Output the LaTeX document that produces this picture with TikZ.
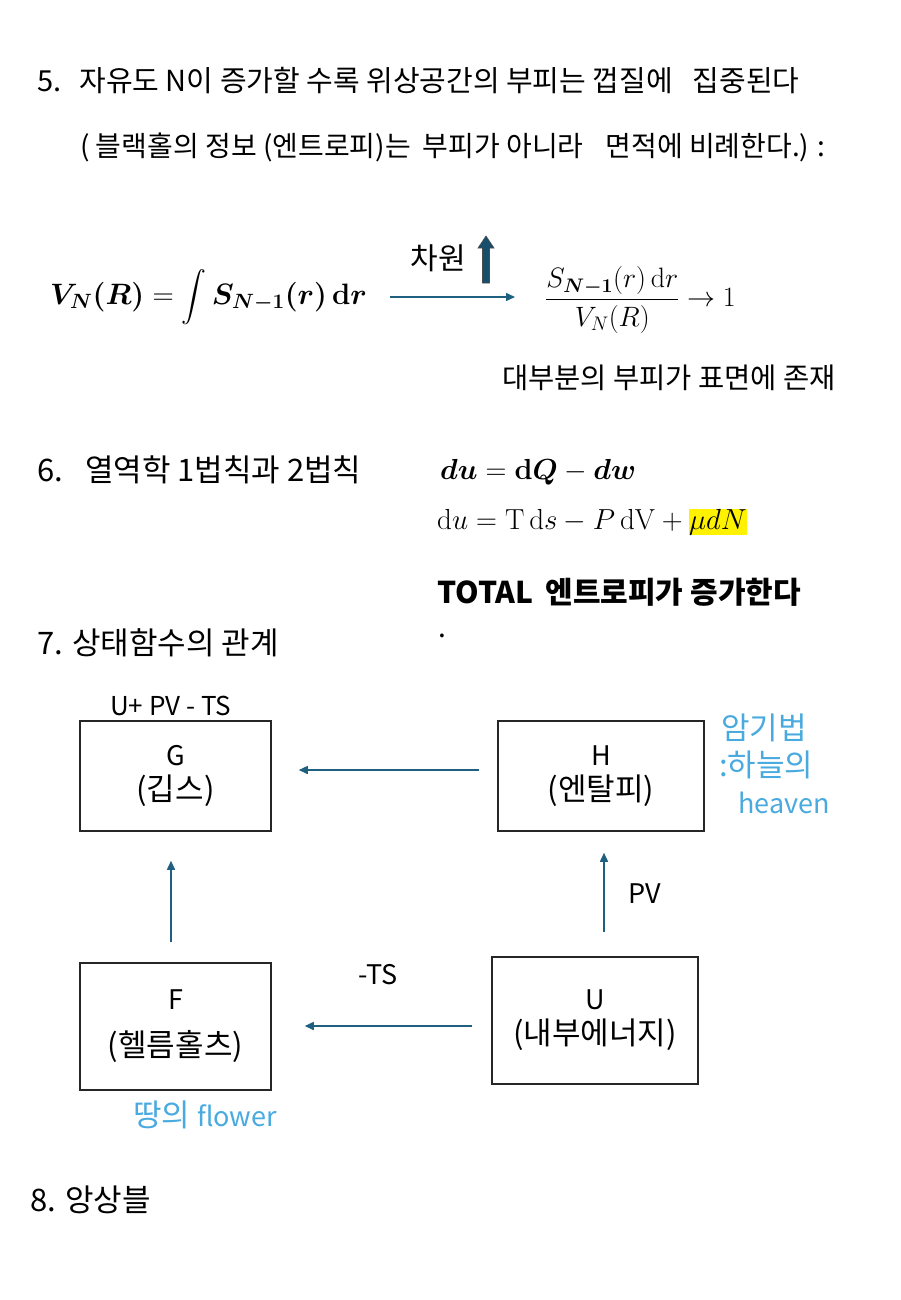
\RequirePackage{fix-cm}
\documentclass[tikz,border=0pt]{standalone}
\usepackage{amsmath}
\usepackage[no-math]{fontspec}
\setmainfont{Noto Sans CJK KR}
\usetikzlibrary{arrows.meta}
\definecolor{flowteal}{RGB}{31,96,128}
\definecolor{memoblue}{RGB}{72,170,222}
\definecolor{blockteal}{RGB}{22,78,108}
\newcommand{\fs}[1]{\fontsize{#1}{1.2\dimexpr#1pt\relax}\selectfont}
\tikzset{
  txt/.style={anchor=west, inner sep=0pt, font=\fs{28}},
  memo/.style={txt, text=memoblue, font=\fs{31}},
  box/.style={draw=black!85, line width=1.5pt, align=center, inner sep=0pt, font=\fontsize{31}{35}\selectfont},
  flow/.style={-{Triangle[length=9pt,width=8pt]}, draw=flowteal, line width=1.5pt},
}
\begin{document}
\begin{tikzpicture}[x=1pt,y=-1pt]
\useasboundingbox (0,0) rectangle (900,1300);

% section 5
\node [txt, font=\fs{29}] (s5) at (37,81) {5.\hspace{18pt}자유도 N이 증가할 수록 위상공간의 부피는 껍질에\hspace{20pt}집중된다};
\node [txt] (s5b) at (80,147) {( 블랙홀의 정보 (엔트로피)는\hspace{12pt}부피가 아니라\hspace{22pt}면적에 비례한다.) :};

\node [txt, font=\fs{29.5}] (vol) at (50,297)
  {$\displaystyle\boldsymbol{V_N(R)} = \int \boldsymbol{S_{N-1}(r)}\,\mathbf{d}\boldsymbol{r}$};
\node [txt, font=\fs{28}] (frac) at (545,300)
  {$\dfrac{S_{\boldsymbol{N-1}}(r)\,\mathrm{d}r}{V_N(R)} \to 1$};
\draw [flow] ([xshift=23pt]vol.east) -- ([xshift=-30pt]vol.east -| frac.west);
\node [txt, anchor=center, font=\fs{30}] (dim) at (438,258) {차원};
\fill [blockteal, draw=black!70, line width=.6pt]
  (482.5,283) -- (482.5,248) -- (478,248) -- (486,236) -- (494,248) -- (489.5,248) -- (489.5,283) -- cycle;
\node [txt, font=\fs{28.5}] (surf) at (502,378) {대부분의 부피가 표면에 존재};

% section 6
\node [txt, font=\fs{31}] (s6) at (37,470) {6.\hspace{22pt}열역학 1법칙과 2법칙};
\node [txt, font=\fs{29}] (law1) at (440,472)
  {$\boldsymbol{du} = \mathbf{d}\boldsymbol{Q} - \boldsymbol{dw}$};
\node [txt, font=\fs{29}] (law2) at (437,522)
  {$\mathrm{d}u = \mathrm{T}\,\mathrm{d}s - P\,\mathrm{dV} + {\setlength{\fboxsep}{0pt}\colorbox{yellow}{$\mu dN$}}$};
\node [txt, font=\fs{30}\bfseries] (total) at (437,592) {TOTAL\hspace{12pt}엔트로피가 증가한다};
\node [txt] (dot) at (438,636) {.};

% section 7
\node [txt, font=\fs{31}] (s7) at (37,643) {7. 상태함수의 관계};
\node [txt, font=\fs{26}] (gdef) at (110,706) {U+ PV - TS};

\node [box, minimum width=191pt, minimum height=110pt] (G) at (175.5,776) {{\fs{27}G}\\(깁스)};
\node [box, minimum width=206pt, minimum height=110pt] (H) at (601,776) {{\fs{27}H}\\(엔탈피)};
\node [box, minimum width=191pt, minimum height=127pt] (F) at (175.5,1026.5) {{\fs{27}F}\\[12pt](헬름홀츠)};
\node [box, minimum width=206pt, minimum height=127pt] (U) at (595,1020.5) {{\fs{27}U}\\(내부에너지)};

\draw [flow, shorten <=18pt, shorten >=27pt] ([yshift=6pt]H.west) -- ([yshift=6pt]G.east);
\draw [flow, shorten <=24pt, shorten >=21pt] ([xshift=9pt]U.north) -- ([xshift=3pt]H.south);
\draw [flow, shorten <=20pt, shorten >=29pt] ([xshift=-4.5pt]F.north) -- ([xshift=-4.5pt]G.south);
\draw [flow, shorten <=19pt, shorten >=33pt] ([yshift=-5.5pt]U.west) -- ([yshift=-5.5pt]U.west -| F.east);

\node [txt, font=\fs{27}] (pv) at (628,894) {PV};
\node [txt, font=\fs{27}] (ts) at (358,975) {-TS};

\node [memo] (m1) at (721,728) {암기법};
\node [memo] (m2) at (719,765) {:하늘의};
\node [memo, font=\fs{27}] (m3) at (738,803) {heaven};
\node [memo] (m4) at (133,1115) {땅의 {\fs{27}flower}};

% section 8
\node [txt, font=\fs{31}] (s8) at (30,1200) {8. 앙상블};

\end{tikzpicture}
\end{document}
